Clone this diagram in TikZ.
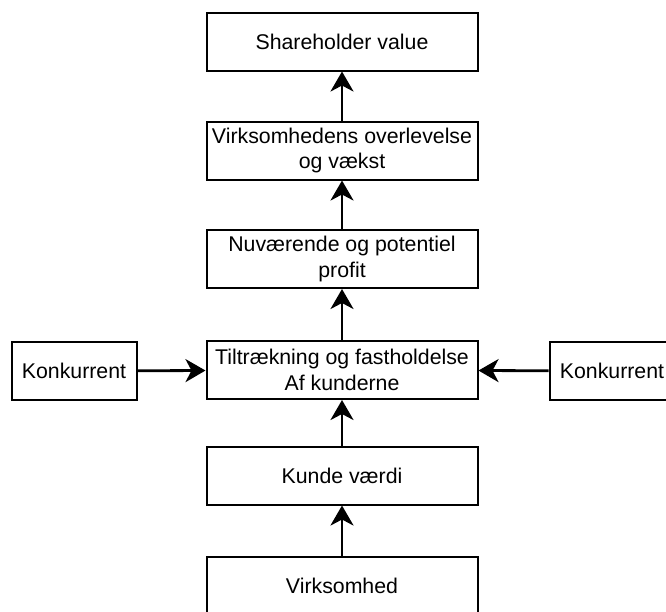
\documentclass[tikz,border=0pt]{standalone}
\usepackage{fontspec}
\setmainfont{Liberation Sans}
\usetikzlibrary{arrows.meta}
\begin{document}
\begin{tikzpicture}[x=1pt,y=-1pt,
  box/.style={draw=black, line width=2pt, fill=white, inner sep=0pt,
    minimum width=271pt, minimum height=58pt, align=center,
    font=\fontsize{21.3}{25.5}\selectfont},
  sidebox/.style={box, minimum width=125pt},
  arr/.style={line width=2.8pt, -{Stealth[length=20pt, width=23pt, inset=6pt]}}]
  \useasboundingbox (0,0) rectangle (666,611);
  \node[box] (sv)   at (342,41.5)  {Shareholder value};
  \node[box] (ov)   at (342,150.5) {Virksomhedens overlevelse\\og vækst};
  \node[box] (pr)   at (342,259)   {Nuværende og potentiel\\profit};
  \node[box] (tf)   at (342,370)   {Tiltrækning og fastholdelse\\Af kunderne};
  \node[box] (kv)   at (342,475.5) {Kunde værdi};
  \node[box] (vh)   at (342,585.5) {Virksomhed};
  \node[sidebox] (kl) at (74,371)  {Konkurrent};
  \node[sidebox] (kr) at (612,371) {Konkurrent};
  \draw[arr] (ov) -- (sv);
  \draw[arr] (pr) -- (ov);
  \draw[arr] (tf) -- (pr);
  \draw[arr] (kv) -- (tf);
  \draw[arr] (vh) -- (kv);
  \draw[arr] (kl) -- (tf);
  \draw[arr] (kr) -- (tf);
\end{tikzpicture}
\end{document}
